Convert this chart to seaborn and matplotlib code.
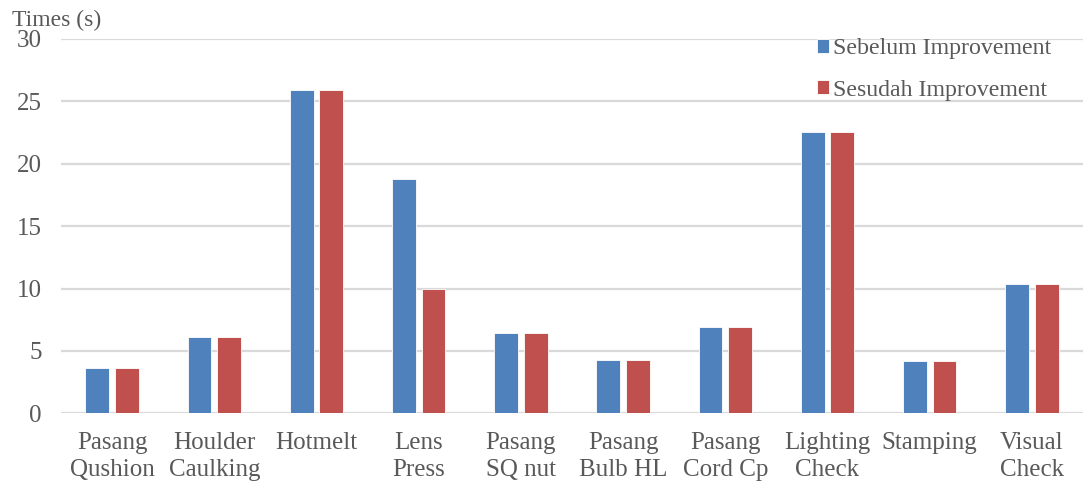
import pandas as pd
import numpy as np
import matplotlib.pyplot as plt
import seaborn as sns

categories = ['Pasang\nQushion', 'Houlder\nCaulking', 'Hotmelt', 'Lens\nPress', 'Pasang\nSQ nut',
              'Pasang\nBulb HL', 'Pasang\nCord Cp', 'Lighting\nCheck', 'Stamping', 'Visual\nCheck']
sebelum = [3.6, 6.1, 25.9, 18.8, 6.4, 4.3, 6.9, 22.5, 4.2, 10.4]
sesudah = [3.6, 6.1, 25.9, 10.0, 6.4, 4.3, 6.9, 22.5, 4.2, 10.4]
series = ['Sebelum Improvement', 'Sesudah Improvement']

df = pd.concat([
    pd.DataFrame({'proses': categories, 'waktu': sebelum, 'kondisi': series[0]}),
    pd.DataFrame({'proses': categories, 'waktu': sesudah, 'kondisi': series[1]}),
])

sns.set_style('white')
plt.rcParams['font.family'] = ['Liberation Serif', 'DejaVu Serif']
txt = '#595959'

fig = plt.figure(figsize=(10.83, 4.83), dpi=100)
ax = fig.add_axes([0.0563, 0.144, 0.9437, 0.776])

sns.barplot(data=df, x='proses', y='waktu', hue='kondisi', ax=ax,
            palette=['#4F81BD', '#C0504D'], saturation=1, width=0.58, gap=0.2,
            edgecolor='white', linewidth=0.6)

ax.set_ylim(0, 30)
ax.set_yticks(np.arange(0, 31, 5))
ax.yaxis.grid(True, color='#D9D9D9', linewidth=1.6)
ax.set_axisbelow(True)
for s in ax.spines.values():
    s.set_visible(False)
ax.tick_params(axis='both', length=0, labelsize=18, colors=txt)
ax.tick_params(axis='x', pad=13)
ax.tick_params(axis='y', pad=14)
for lbl in ax.get_xticklabels():
    lbl.set_linespacing(1.32)
ax.set_xlabel('')
ax.set_ylabel('')

fig.text(0.011, 0.979, 'Times (s)', fontsize=17, color=txt, va='top', ha='left')

ax.legend(loc='upper left', bbox_to_anchor=(0.743, 0.946), bbox_transform=fig.transFigure,
          frameon=False, borderpad=0, fontsize=17.2, labelcolor=txt,
          handlelength=0.52, handleheight=0.52, handletextpad=0.15, labelspacing=0.86)

fig.savefig('out.png', dpi=100)
